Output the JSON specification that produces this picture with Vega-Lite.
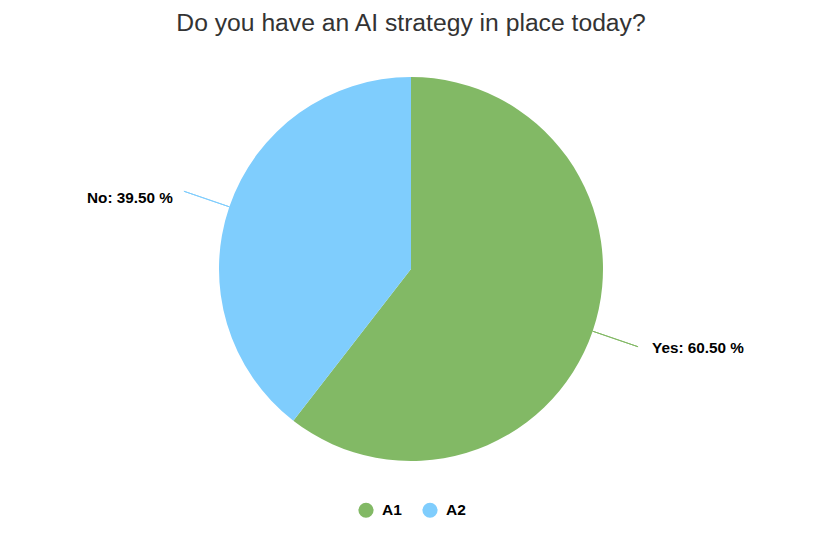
{
  "$schema": "https://vega.github.io/schema/vega-lite/v6.json",
  "description": "Pie chart of answers to: Do you have an AI strategy in place today?",
  "width": 822,
  "height": 436,
  "padding": {"left": 0, "right": 8, "top": 11, "bottom": 0},
  "title": {
    "text": "Do you have an AI strategy in place today?",
    "anchor": "middle",
    "font": "Liberation Sans",
    "fontSize": 24.7,
    "fontWeight": "normal",
    "color": "#333333",
    "offset": 15
  },
  "data": {
    "values": [
      {"series": "A1", "answer": "Yes", "percent": 60.5},
      {"series": "A2", "answer": "No", "percent": 39.5}
    ]
  },
  "transform": [
    {"stack": "percent", "groupby": [], "sort": [{"field": "series"}], "as": ["start", "end"]},
    {"calculate": "(datum.start + datum.end) / 2", "as": "mid"},
    {"calculate": "datum.answer + ': ' + format(datum.percent, '.2f') + ' %'", "as": "label"}
  ],
  "layer": [
    {
      "mark": {"type": "arc", "outerRadius": 192, "stroke": null},
      "encoding": {
        "theta": {"field": "start", "type": "quantitative", "scale": {"domain": [0, 100]}},
        "theta2": {"field": "end"},
        "color": {
          "field": "series",
          "type": "nominal",
          "scale": {"domain": ["A1", "A2"], "range": ["#82b965", "#7fcdfd"]},
          "legend": {
            "title": null,
            "orient": "none",
            "legendX": 358,
            "legendY": 451,
            "direction": "horizontal",
            "symbolType": "circle",
            "symbolSize": 230,
            "symbolStrokeWidth": 0,
            "labelFont": "Liberation Sans",
            "labelFontSize": 15.5,
            "labelFontWeight": "bold",
            "labelColor": "#000000",
            "labelOffset": 8,
            "columnPadding": 20
          }
        }
      }
    },
    {
      "mark": {"type": "arc", "radius": 240, "radius2": 192, "strokeWidth": 1},
      "encoding": {
        "theta": {"field": "mid", "type": "quantitative"},
        "theta2": {"field": "mid"},
        "stroke": {"field": "series", "type": "nominal", "legend": null, "scale": {"domain": ["A1", "A2"], "range": ["#82b965", "#7fcdfd"]}}
      }
    },
    {
      "transform": [{"filter": "datum.answer == 'Yes'"}],
      "mark": {"type": "text", "radius": 239, "dx": 15, "dy": 2, "align": "left", "baseline": "middle", "font": "Liberation Sans", "fontSize": 15.3, "fontWeight": "bold", "color": "#000000"},
      "encoding": {
        "theta": {"field": "mid", "type": "quantitative"},
        "text": {"field": "label"}
      }
    },
    {
      "transform": [{"filter": "datum.answer == 'No'"}],
      "mark": {"type": "text", "radius": 239, "dx": -12, "dy": 6, "align": "right", "baseline": "middle", "font": "Liberation Sans", "fontSize": 15.3, "fontWeight": "bold", "color": "#000000"},
      "encoding": {
        "theta": {"field": "mid", "type": "quantitative"},
        "text": {"field": "label"}
      }
    }
  ],
  "config": {"view": {"stroke": null}}
}
